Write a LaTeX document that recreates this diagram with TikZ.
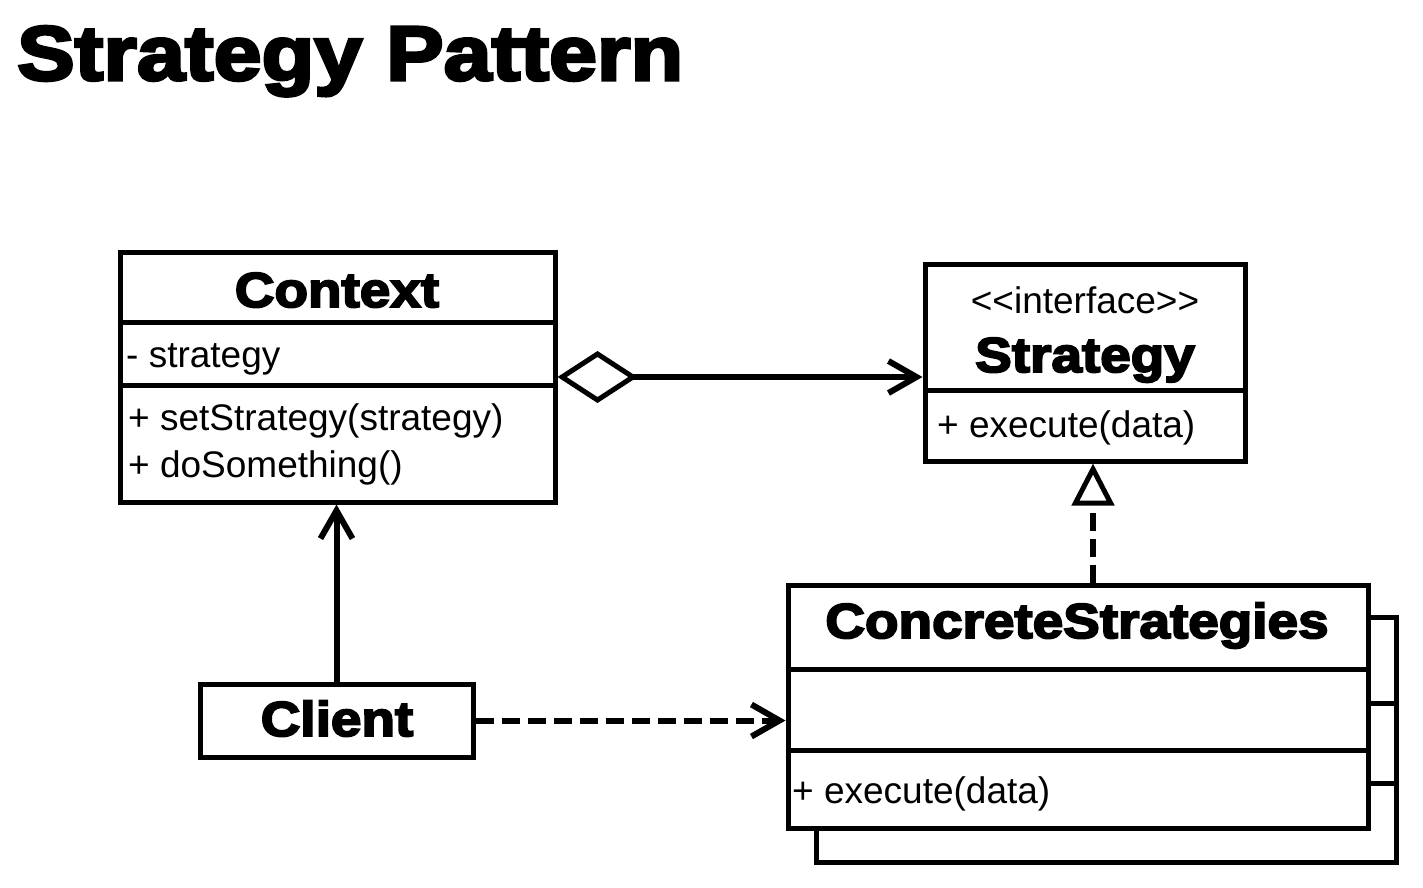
\documentclass[tikz,border=0pt]{standalone}
\usepackage{fontspec}
\setmainfont{Liberation Sans}
\newfontfamily\heavyfont[FakeBold=4,FakeStretch=1.12]{Liberation Sans Bold}
\usetikzlibrary{arrows.meta,positioning,calc}

\tikzset{
    umlbox/.style={draw, line width=5pt, rectangle, inner sep=0pt, fill=white},
    heading/.style={font=\heavyfont\fontsize{49}{55}\selectfont, inner sep=0pt, anchor=base},
    member/.style={font=\fontsize{37}{44}\selectfont, inner sep=0pt, anchor=base west},
    link/.style={line width=6pt},
    dashlink/.style={line width=6pt, dash pattern=on 18pt off 8pt},
}

\begin{document}
\begin{tikzpicture}[x=1pt, y=-1pt]
        \useasboundingbox (0,0) rectangle (1423,887);

        % Title
        \node[font=\heavyfont\fontsize{77}{80}\selectfont, inner sep=0pt, anchor=base west] (title) at (17, 80) {Strategy Pattern};



        % Draw the context class
        \node[umlbox, minimum width=435pt, minimum height=250pt] (ctx) at (337.5, 377) {};
        \draw[line width=5pt] (ctx.west |- 0, 322) -- (ctx.east |- 0, 322);
        \draw[line width=5pt] (ctx.west |- 0, 385) -- (ctx.east |- 0, 385);

        \node[heading] (ctxname) at (337, 307) {Context};
        \node[member] (ctxattr) at (126, 367) {- strategy};
        \node[member] (ctxop1) at (128, 430) {+ setStrategy(strategy)};
        \node[member] (ctxop2) at (128, 477) {+ doSomething()};



        % Draw the strategy interface
        \node[umlbox, minimum width=320pt, minimum height=197pt] (strat) at (1085, 362.5) {};
        \draw[line width=5pt] (strat.west |- 0, 390) -- (strat.east |- 0, 390);

        \node[font=\fontsize{37}{44}\selectfont, inner sep=0pt, anchor=base] (stratstereo) at (1085, 313) {<\kern0pt<interface>\kern0pt>};
        \node[heading] (stratname) at (1085, 372) {Strategy};
        \node[member] (stratop) at (937, 437) {+ execute(data)};



        % Draw the concrete strategies (stacked)
        \node[umlbox, minimum width=580pt, minimum height=245pt] (concback) at (1106, 739.5) {};
        \foreach \y in {703, 783} {
            \draw[line width=5pt] (concback.west |- 0, \y) -- (concback.east |- 0, \y);
        }

        \node[umlbox, minimum width=580pt, minimum height=243pt] (conc) at (1078, 706.5) {};
        \foreach \y in {669, 750} {
            \draw[line width=5pt] (conc.west |- 0, \y) -- (conc.east |- 0, \y);
        }

        \node[heading] (concname) at (1077, 638) {ConcreteStrategies};
        \node[member] (concop) at (792, 803) {+ execute(data)};



        % Draw the client
        \node[umlbox, minimum width=273pt, minimum height=73pt] (client) at (336.5, 720.5) {};
        \node[heading] (clientname) at (337, 736) {Client};



        % Aggregation context -> strategy
        \draw[link, {Diamond[open, fill=white, length=80pt, width=52pt, line width=5pt]}-{Straight Barb[length=28pt, width=32pt]}]
            (ctx.east) -- (ctx.east -| strat.west);

        % Realization concrete -> strategy
        \coordinate (realtop) at ($(strat.south) + (8, 0)$);
        \draw[dashlink, -{Triangle[open, fill=white, length=42pt, width=42pt, line width=5pt]}]
            (realtop |- conc.north) -- (realtop);

        % Client uses context
        \draw[link, -{Straight Barb[length=28pt, width=32pt]}] (client.north) -- (client.north |- ctx.south);

        % Client uses concrete strategies
        \draw[dashlink, -{Straight Barb[length=28pt, width=32pt]}] (client.east) -- (client.east -| conc.west);

\end{tikzpicture}
\end{document}
